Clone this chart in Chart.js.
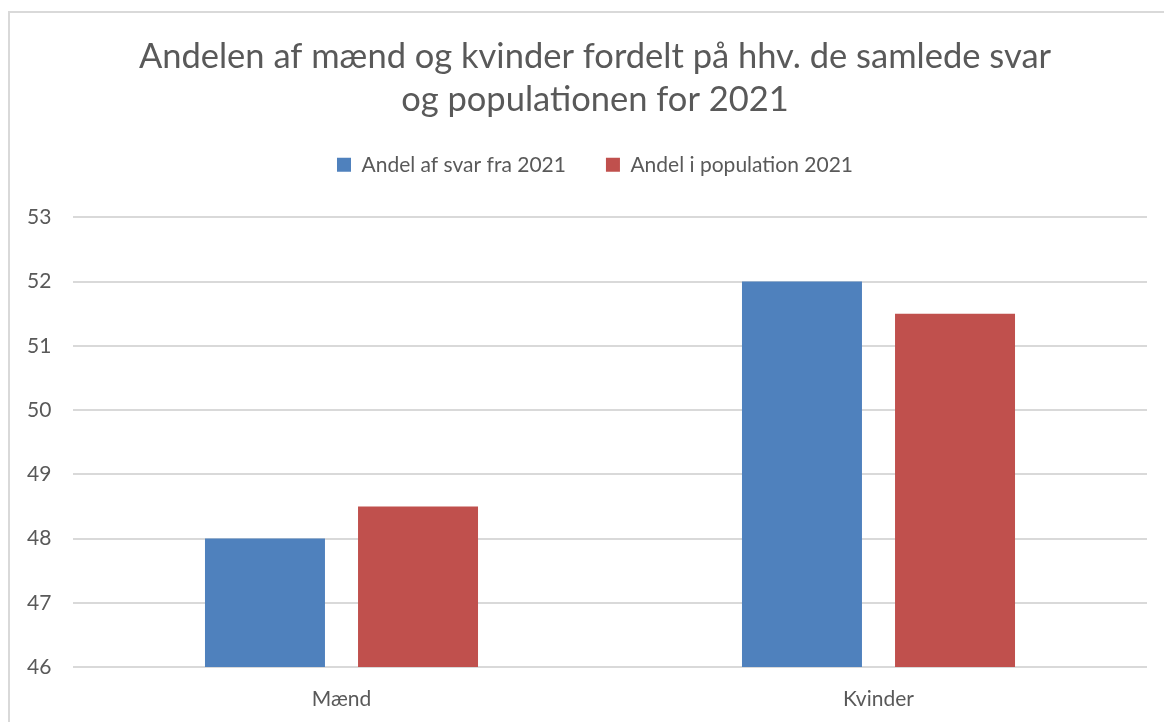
<!DOCTYPE html>
<html>
<head>
<meta charset="utf-8">
<script src="https://cdn.jsdelivr.net/npm/chart.js@4.4.1/dist/chart.umd.min.js"></script>
<style>
  html, body { margin: 0; padding: 0; background: #fff; overflow: hidden; }
  #wrap { position: relative; width: 1164px; height: 722px; }
  #frame { position: absolute; left: 8px; top: 11px; width: 1300px; height: 900px;
           border: 2px solid #d9d9d9; box-sizing: border-box; }
  canvas { position: absolute; left: 0; top: 0; }
</style>
</head>
<body>
<div id="wrap">
  <div id="frame"></div>
  <canvas id="bars" width="1164" height="722"></canvas>
</div>
<script>
// chart data
var categories = ['Mænd', 'Kvinder'];
var svar2021 = [48, 52];          // Andel af svar fra 2021
var population2021 = [48.5, 51.5]; // Andel i population 2021
var seriesNames = ['Andel af svar fra 2021', 'Andel i population 2021'];
var titleLines = ['Andelen af mænd og kvinder fordelt på hhv. de samlede svar', 'og populationen for 2021'];
var yMin = 46, yMax = 53, yStep = 1;

var textColor = '#595959';
Chart.defaults.font.family = 'Lato, "Open Sans", sans-serif';
Chart.defaults.color = textColor;

// push the plot area down a bit below the legend
var legendGap = {
  id: 'legendGap',
  beforeInit: function (chart) {
    var fit = chart.legend.fit;
    chart.legend.fit = function () {
      fit.bind(chart.legend)();
      this.height += 32;
    };
  }
};

var ctx = document.getElementById('bars').getContext('2d');
var chart = new Chart(ctx, {
  type: 'bar',
  data: {
    labels: categories,
    datasets: [{
      label: seriesNames[0],
      data: svar2021,
      backgroundColor: '#4f81bd',
      categoryPercentage: 0.57,
      barPercentage: 0.784
    }, {
      label: seriesNames[1],
      data: population2021,
      backgroundColor: '#c0504d',
      categoryPercentage: 0.57,
      barPercentage: 0.784
    }]
  },
  options: {
    responsive: false,
    animation: false,
    layout: { padding: { left: 43, right: 17, top: 0, bottom: 0 } },
    plugins: {
      title: {
        display: true,
        text: titleLines,
        color: textColor,
        font: { size: 34.5, weight: 'normal', lineHeight: 1.25 },
        padding: { top: 35, bottom: -7 }
      },
      legend: {
        display: true,
        labels: {
          boxWidth: 14,
          boxHeight: 14,
          padding: 40,
          color: textColor,
          font: { size: 21 }
        }
      },
      tooltip: { enabled: false }
    },
    scales: {
      x: {
        grid: { display: false, drawTicks: false },
        border: { display: false },
        ticks: { padding: 20, color: textColor, font: { size: 21 } },
        afterFit: function (s) { s.height = 55; }
      },
      y: {
        min: yMin,
        max: yMax,
        grid: { color: '#d9d9d9', lineWidth: 2, drawTicks: false },
        border: { display: false },
        // mirrored so the labels may sit left of the axis box without clipping
        ticks: { stepSize: yStep, mirror: true, padding: -46, color: textColor, font: { size: 21 } },
        afterFit: function (s) { s.width = 30; }
      }
    }
  },
  plugins: [legendGap]
});
</script>
</body>
</html>
